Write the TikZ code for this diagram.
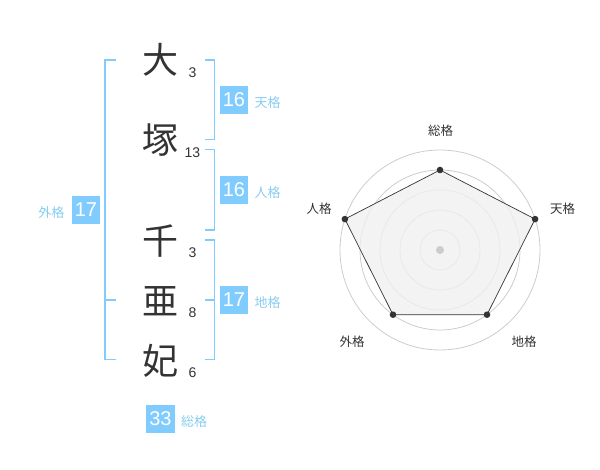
\documentclass[tikz,border=0pt]{standalone}
\usepackage{fontspec}
\setmainfont{Liberation Sans}
\newfontfamily\jpfont{Noto Sans CJK JP}
\usetikzlibrary{positioning, calc}
\definecolor{kakublue}{HTML}{80CCFF}
\definecolor{kakutext}{HTML}{88CCF0}
\definecolor{inkgray}{HTML}{333333}
\definecolor{ringgray}{HTML}{CCCCCC}
\tikzstyle{kanji} = [text=inkgray, font=\jpfont\fontsize{36}{36}\selectfont, inner sep=0pt]
\tikzstyle{strokes} = [text=inkgray, font=\fontsize{14}{14}\selectfont, inner sep=0pt]
\tikzstyle{valuebox} = [rectangle, fill=kakublue, text=white, minimum width=28.5pt, minimum height=28.5pt, inner sep=0pt, font=\fontsize{20}{20}\selectfont]
\tikzstyle{kakuname} = [text=kakutext, font=\jpfont\fontsize{13}{13}\selectfont, inner sep=0pt, yshift=-3pt]
\tikzstyle{radarname} = [text=inkgray, font=\jpfont\fontsize{12.5}{12.5}\selectfont, inner sep=0pt]
\tikzstyle{bracket} = [draw=kakublue, line width=1.8pt]
\tikzstyle{ring} = [draw=ringgray, line width=0.8pt]

\begin{document}
\begin{tikzpicture}[x=1pt, y=-1pt]
	\useasboundingbox (0,0) rectangle (600,470);

		% Name characters and stroke counts
		\node (c1) at (160,60) [kanji] {大};
		\node (c2) at (160,140) [kanji] {塚};
		\node (c3) at (160,241) [kanji] {千};
		\node (c4) at (160,301) [kanji] {亜};
		\node (c5) at (160,361) [kanji] {妃};
		\node (s1) at (192.5,73) [strokes] {3};
		\node (s2) at (192.5,153) [strokes] {13};
		\node (s3) at (192.5,253) [strokes] {3};
		\node (s4) at (192.5,313) [strokes] {8};
		\node (s5) at (192.5,373) [strokes] {6};

		% Brackets
		\draw [bracket] (116,60) -- (105,60) -- (105,359.5) -- (116,359.5);
		\draw [bracket] (105,300) -- (116,300);
		% -
		\draw [bracket] (205,60) -- (214.5,60) -- (214.5,139.5) -- (205,139.5);
		\draw [bracket] (205,149.5) -- (214.5,149.5) -- (214.5,230) -- (205,230);
		\draw [bracket] (205,240) -- (214.5,240) -- (214.5,359.5) -- (205,359.5);
		\draw [bracket] (205,300) -- (214.5,300);

		% Values
		\node (tenkaku) at (234,100) [valuebox] {16};
		\node [kakuname, right=6pt of tenkaku] {天格};
		\node (jinkaku) at (234,190) [valuebox] {16};
		\node [kakuname, right=6pt of jinkaku] {人格};
		\node (chikaku) at (234,300) [valuebox] {17};
		\node [kakuname, right=6pt of chikaku] {地格};
		\node (gaikaku) at (86,210) [valuebox] {17};
		\node [kakuname, left=7pt of gaikaku] {外格};
		\node (soukaku) at (160.5,419) [valuebox] {33};
		\node [kakuname, right=6pt of soukaku] {総格};

		% Radar chart
		\coordinate (center) at (440,250);
		\foreach \r in {20,40,60,80,100}
			\draw [ring] (center) circle (\r);
		\coordinate (p_sou) at ($(center)+(0,-80)$);
		\coordinate (p_ten) at ($(center)+(95.1,-30.9)$);
		\coordinate (p_chi) at ($(center)+(47.0,64.7)$);
		\coordinate (p_gai) at ($(center)+(-47.0,64.7)$);
		\coordinate (p_jin) at ($(center)+(-95.1,-30.9)$);
		\filldraw [fill=black!6, fill opacity=0.8, draw=inkgray, line width=0.7pt]
			(p_sou) -- (p_ten) -- (p_chi) -- (p_gai) -- (p_jin) -- cycle;
		\fill [ringgray] (center) circle (4);
		\foreach \p in {p_sou,p_ten,p_chi,p_gai,p_jin}
			\fill [inkgray] (\p) circle (3.3);
		% -
		\node at (440.5,130.5) [radarname] {総格};
		\node at (562.5,208.5) [radarname] {天格};
		\node at (524,341.5) [radarname] {地格};
		\node at (352,341.5) [radarname] {外格};
		\node at (319,209) [radarname] {人格};

\end{tikzpicture}
\end{document}
